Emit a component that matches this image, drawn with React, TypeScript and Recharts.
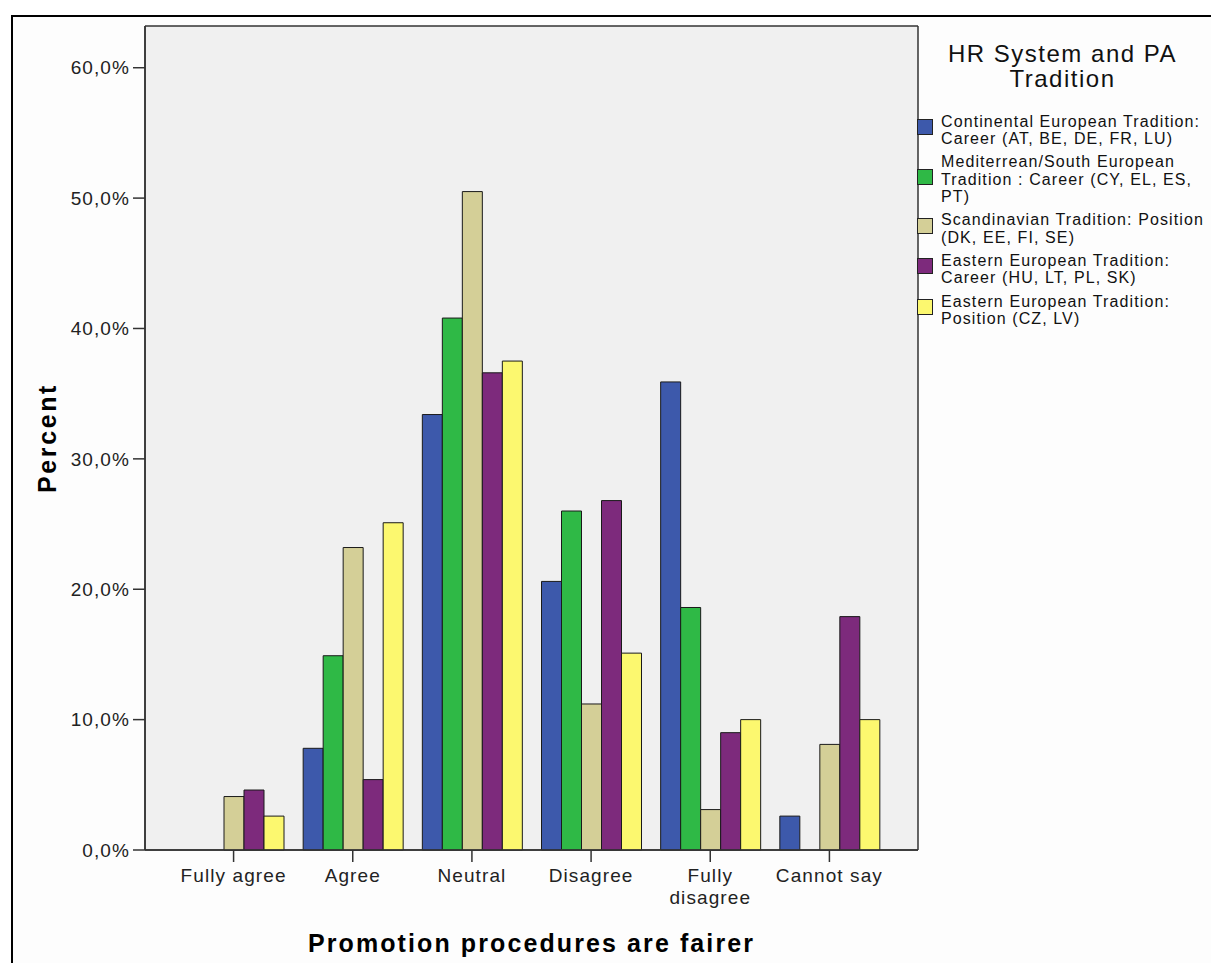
import React from 'react';
import { BarChart, Bar, XAxis, YAxis, CartesianGrid } from 'recharts';

const categories = ['Fully agree', 'Agree', 'Neutral', 'Disagree', 'Fully\ndisagree', 'Cannot say'];
const continental = [0, 7.8, 33.4, 20.6, 35.9, 2.6];
const mediterranean = [0, 14.9, 40.8, 26.0, 18.6, 0];
const scandinavian = [4.1, 23.2, 50.5, 11.2, 3.1, 8.1];
const easternCareer = [4.6, 5.4, 36.6, 26.8, 9.0, 17.9];
const easternPosition = [2.6, 25.1, 37.5, 15.1, 10.0, 10.0];
const yTicks = [0, 10, 20, 30, 40, 50, 60];

const seriesKeys = ['continental', 'mediterranean', 'scandinavian', 'easternCareer', 'easternPosition'];
const seriesValues = [continental, mediterranean, scandinavian, easternCareer, easternPosition];
const seriesNames = [
  'Continental European Tradition:\nCareer (AT, BE, DE, FR, LU)',
  'Mediterrean/South European\nTradition : Career (CY, EL, ES,\nPT)',
  'Scandinavian Tradition: Position\n(DK, EE, FI, SE)',
  'Eastern European Tradition:\nCareer (HU, LT, PL, SK)',
  'Eastern European Tradition:\nPosition (CZ, LV)',
];
const seriesColors = ['#3d59ab', '#2fb946', '#d4cf97', '#7d2a7c', '#fcf86f'];
const legendTitle = 'HR System and PA\nTradition';
const xTitle = 'Promotion procedures are fairer';
const yTitle = 'Percent';

const data = categories.map((c, i) => {
  const row: Record<string, any> = { category: c };
  seriesKeys.forEach((k, j) => {
    row[k] = seriesValues[j][i];
  });
  return row;
});

const FONT = 'Arial, "Liberation Sans", sans-serif';

const XTick = (props: any) => {
  const { x, y, payload } = props;
  const lines = String(payload.value).split('\n');
  return (
    <text
      x={x}
      y={y}
      textAnchor="middle"
      fill="#222"
      fontSize={19}
      fontFamily={FONT}
      letterSpacing={1.1}
    >
      {lines.map((l, i) => (
        <tspan key={i} x={x} dy={i === 0 ? 18 : 22}>
          {l}
        </tspan>
      ))}
    </text>
  );
};

const fmt = (v: number) => `${v.toFixed(1).replace('.', ',')}%`;

export default function App() {
  return (
    <div style={{ position: 'absolute', left: 0, top: 0, width: 1211, height: 963, overflow: 'hidden', background: '#fff' }}>
      <div
        style={{
          position: 'absolute',
          left: 11,
          top: 15,
          width: 1300,
          height: 1100,
          borderTop: '2px solid #000',
          borderLeft: '2px solid #000',
          background: '#fdfdfd',
        }}
      />
      <div style={{ position: 'absolute', left: 0, top: 0 }}>
        <BarChart
          width={1211}
          height={963}
          data={data}
          margin={{ top: 26, right: 293, bottom: 53, left: 0 }}
          barGap={0}
        >
          <CartesianGrid
            fill="#f0f0f0"
            stroke="#333"
            strokeWidth={1.5}
            horizontalCoordinatesGenerator={({ offset }: any) => [offset.top, offset.top + offset.height]}
            verticalCoordinatesGenerator={({ offset }: any) => [offset.left, offset.left + offset.width]}
          />
          <XAxis
            dataKey="category"
            height={60}
            interval={0}
            padding={{ left: 29, right: 29 }}
            tickSize={12}
            tickMargin={2}
            axisLine={{ stroke: '#333', strokeWidth: 1.5 }}
            tickLine={{ stroke: '#333', strokeWidth: 1.5 }}
            tick={<XTick />}
            label={{
              content: (p: any) => {
                const vb = p.viewBox;
                return (
                  <text
                    x={vb.x + vb.width / 2}
                    y={952}
                    textAnchor="middle"
                    fontSize={25}
                    fontWeight="bold"
                    fontFamily={FONT}
                    letterSpacing={2.1}
                    fill="#000"
                  >
                    {xTitle}
                  </text>
                );
              },
            }}
          />
          <YAxis
            type="number"
            width={145}
            domain={[0, 63.2]}
            ticks={yTicks}
            tickFormatter={fmt}
            tickSize={12}
            tickMargin={3}
            axisLine={{ stroke: '#333', strokeWidth: 1.5 }}
            tickLine={{ stroke: '#333', strokeWidth: 1.5 }}
            tick={{ fill: '#222', fontSize: 19, fontFamily: FONT, letterSpacing: 1.1 } as any}
            label={{
              content: (p: any) => {
                const vb = p.viewBox;
                const cx = vb.x + 56;
                const cy = vb.y + vb.height / 2;
                return (
                  <text
                    x={cx}
                    y={cy}
                    transform={`rotate(-90, ${cx}, ${cy})`}
                    textAnchor="middle"
                    fontSize={25}
                    fontWeight="bold"
                    fontFamily={FONT}
                    letterSpacing={2.6}
                    fill="#000"
                  >
                    {yTitle}
                  </text>
                );
              },
            }}
          />
          {seriesKeys.map((k, i) => (
            <Bar
              key={k}
              dataKey={k}
              name={seriesNames[i]}
              fill={seriesColors[i]}
              stroke="#1a1a1a"
              strokeWidth={1}
              barSize={20}
              isAnimationActive={false}
            />
          ))}
        </BarChart>
      </div>
      <div
        style={{
          position: 'absolute',
          left: 915,
          top: 41,
          width: 295,
          textAlign: 'center',
          whiteSpace: 'pre',
          fontFamily: FONT,
          fontSize: 24,
          lineHeight: '25px',
          letterSpacing: 1.5,
          color: '#111',
        }}
      >
        {legendTitle}
      </div>
      <div style={{ position: 'absolute', left: 917, top: 112.7, fontFamily: FONT }}>
        {seriesNames.map((n, i) => (
          <div key={i} style={{ display: 'flex', alignItems: 'center', marginBottom: 5.6 }}>
            <div
              style={{
                width: 16,
                height: 16,
                boxSizing: 'border-box',
                border: '1px solid #222',
                background: seriesColors[i],
                marginRight: 8,
                transform: 'translateY(-3px)',
                flex: 'none',
              }}
            />
            <div
              style={{
                whiteSpace: 'pre',
                fontSize: 16,
                lineHeight: '17.5px',
                letterSpacing: 1.1,
                color: '#111',
              }}
            >
              {n}
            </div>
          </div>
        ))}
      </div>
    </div>
  );
}
